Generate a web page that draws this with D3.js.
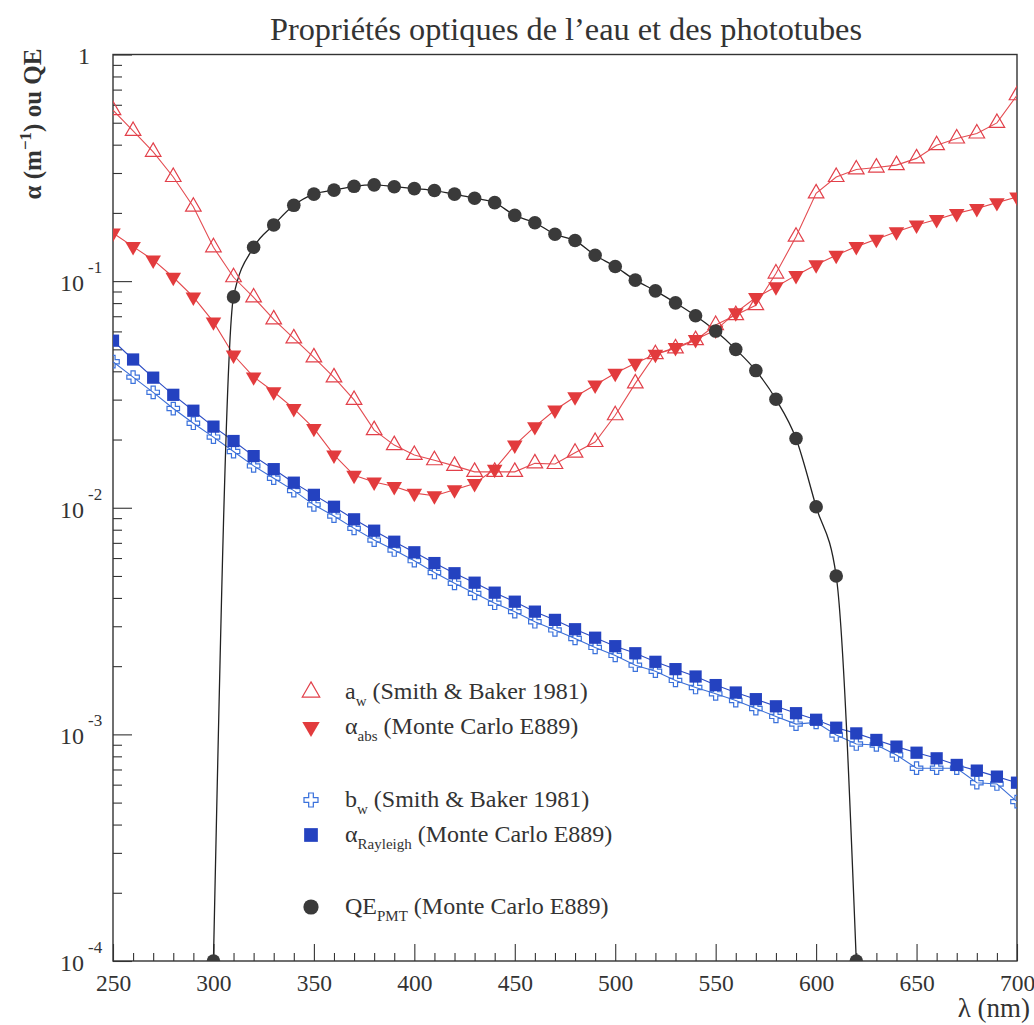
<!DOCTYPE html>
<html>
<head>
<meta charset="utf-8">
<script src="https://cdn.jsdelivr.net/npm/d3@7"></script>
<style>
  html, body { margin: 0; padding: 0; background: #fff; }
  svg { display: block; }
</style>
</head>
<body>
<svg id="chart" width="1034" height="1025"></svg>
<script>
// Wavelength grid (nm) for the water data, and for the phototube quantum efficiency
const wavelengths = [250,260,270,280,290,300,310,320,330,340,350,360,370,380,390,400,410,420,430,440,
                     450,460,470,480,490,500,510,520,530,540,550,560,570,580,590,600,610,620,630,640,
                     650,660,670,680,690,700];
const qeWavelengths = [300,310,320,330,340,350,360,370,380,390,400,410,420,430,440,450,460,470,480,490,
                       500,510,520,530,540,550,560,570,580,590,600,610,620];

// a_w : absorption of pure water (Smith & Baker 1981), m^-1
const aSmithBaker = [0.568,0.460,0.372,0.288,0.213,0.141,0.104,0.0847,0.0678,0.0559,
                     0.0461,0.0376,0.0299,0.0220,0.0189,0.0171,0.0162,0.0153,0.0144,0.0144,
                     0.0144,0.0157,0.0156,0.0175,0.0195,0.0256,0.0354,0.0476,0.0505,0.0549,
                     0.0640,0.0708,0.0783,0.108,0.157,0.244,0.288,0.311,0.317,0.325,
                     0.348,0.398,0.426,0.448,0.499,0.661];
// alpha_abs : absorption used in the E889 Monte Carlo, m^-1
const alphaAbs = [0.163,0.142,0.124,0.104,0.0852,0.0661,0.0472,0.0378,0.0325,0.0274,
                  0.0224,0.0171,0.0139,0.0130,0.0124,0.0116,0.0113,0.0120,0.0128,0.0148,
                  0.0189,0.0228,0.0270,0.0309,0.0348,0.0392,0.0434,0.0476,0.0510,0.0553,
                  0.0608,0.0726,0.0846,0.0944,0.106,0.118,0.130,0.142,0.153,0.165,
                  0.177,0.187,0.199,0.209,0.222,0.235];
// b_w : scattering of pure water (Smith & Baker 1981), m^-1
const bSmithBaker = [0.0441,0.0377,0.0323,0.0274,0.0236,0.0205,0.0177,0.0153,0.0135,0.0119,
                     0.0103,0.00919,0.00811,0.00720,0.00651,0.00584,0.00518,0.00464,0.00419,0.00379,
                     0.00348,0.00314,0.00289,0.00265,0.00242,0.00223,0.00202,0.00190,0.00173,0.00161,
                     0.00151,0.00141,0.00130,0.00120,0.00111,0.00113,0.000994,0.000907,0.000898,0.000811,
                     0.000709,0.000709,0.000709,0.000612,0.000604,0.000505];
// alpha_Rayleigh : Rayleigh scattering used in the E889 Monte Carlo, m^-1
const alphaRayleigh = [0.0546,0.0451,0.0375,0.0315,0.0268,0.0228,0.0197,0.0169,0.0148,0.0129,
                       0.0114,0.0101,0.00889,0.00792,0.00708,0.00636,0.00570,0.00514,0.00467,0.00422,
                       0.00385,0.00348,0.00320,0.00291,0.00267,0.00245,0.00228,0.00209,0.00194,0.00180,
                       0.00165,0.00153,0.00143,0.00133,0.00124,0.00116,0.00107,0.00101,0.000945,0.000883,
                       0.000830,0.000784,0.000733,0.000692,0.000651,0.000612];
// QE_PMT : photomultiplier quantum efficiency (E889 Monte Carlo)
const qePMT = [0,0.0852,0.141,0.177,0.216,0.242,0.252,0.262,0.266,0.261,
               0.256,0.251,0.242,0.232,0.222,0.195,0.181,0.161,0.151,0.130,
               0.116,0.101,0.0906,0.0802,0.0703,0.0602,0.0500,0.0403,0.0301,0.0202,
               0.0101,0.0050,0];

// Axis ticks
const xMajorTicks = [250,300,350,400,450,500,550,600,650,700];
const decadeTicks = [1e-4,1e-3,1e-2,1e-1,1];

const W = 1034, H = 1025;
const plot = { x0: 113, x1: 1017, y0: 54.5, y1: 961 };
const serif = "'Liberation Serif', 'Times New Roman', Times, serif";
const ink = '#333';

const x = d3.scaleLinear().domain([250, 700]).range([plot.x0, plot.x1]);
const y = d3.scaleLog().domain([1e-4, 1]).range([plot.y1, plot.y0]).clamp(true);

const svg = d3.select('#chart').style('font-family', serif);
svg.append('rect').attr('width', W).attr('height', H).attr('fill', '#fff');

// Title
svg.append('text')
  .attr('x', 566).attr('y', 40)
  .attr('text-anchor', 'middle')
  .style('font-family', serif).style('font-size', '32.3px').attr('fill', ink)
  .text('Propriétés optiques de l’eau et des phototubes');

// Clip region for curves and markers
svg.append('defs').append('clipPath').attr('id', 'plotClip')
  .append('rect')
  .attr('x', plot.x0).attr('y', plot.y0)
  .attr('width', plot.x1 - plot.x0).attr('height', plot.y1 - plot.y0);

// ---- X axis (ticks point into the frame) ----
const xMinorTicks = wavelengths.filter(w => !xMajorTicks.includes(w));
const gxMinor = svg.append('g').attr('transform', `translate(0,${plot.y1})`)
  .call(d3.axisBottom(x).tickValues(xMinorTicks).tickSize(-8).tickSizeOuter(0).tickFormat(''));
const gx = svg.append('g').attr('transform', `translate(0,${plot.y1})`)
  .call(d3.axisBottom(x).tickValues(xMajorTicks).tickSize(-17).tickSizeOuter(0)
        .tickPadding(13).tickFormat(d3.format('d')));
[gxMinor, gx].forEach(g => {
  g.attr('font-family', null).attr('font-size', null);
  g.select('.domain').remove();
  g.selectAll('line').attr('stroke', ink).attr('stroke-width', 1.1);
});
gx.selectAll('text').style('font-family', serif).style('font-size', '23.5px').attr('fill', ink);

// ---- Y axis (log, decades labelled 10^n) ----
const yMinorTicks = y.ticks().filter(v => !decadeTicks.some(d => Math.abs(d - v) / d < 1e-6));
const gyMinor = svg.append('g').attr('transform', `translate(${plot.x0},0)`)
  .call(d3.axisLeft(y).tickValues(yMinorTicks).tickSize(-9).tickSizeOuter(0).tickFormat(''));
const gy = svg.append('g').attr('transform', `translate(${plot.x0},0)`)
  .call(d3.axisLeft(y).tickValues(decadeTicks).tickSize(-19).tickSizeOuter(0).tickFormat(''));
[gyMinor, gy].forEach(g => {
  g.select('.domain').remove();
  g.selectAll('line').attr('stroke', ink).attr('stroke-width', 1.1);
});

const yLabels = svg.append('g').attr('fill', ink);
decadeTicks.forEach(v => {
  const exp = Math.round(Math.log10(v));
  const yy = y(v);
  if (exp === 0) {
    yLabels.append('text').attr('x', 90).attr('y', yy + 9)
      .attr('text-anchor', 'end').style('font-family', serif).style('font-size', '24px').text('1');
  } else {
    yLabels.append('text').attr('x', 84).attr('y', yy + 10)
      .attr('text-anchor', 'end').style('font-family', serif).style('font-size', '24px').text('10');
    yLabels.append('text').attr('x', 88).attr('y', yy - 8)
      .attr('text-anchor', 'start').style('font-family', serif).style('font-size', '17px').text(String(exp));
  }
});

// Frame
svg.append('rect')
  .attr('x', plot.x0).attr('y', plot.y0)
  .attr('width', plot.x1 - plot.x0).attr('height', plot.y1 - plot.y0)
  .attr('fill', 'none').attr('stroke', ink).attr('stroke-width', 1.4);

// Axis titles
const yTitle = svg.append('text')
  .attr('transform', 'translate(41,124) rotate(-90)')
  .attr('text-anchor', 'middle')
  .style('font-family', serif).style('font-weight', 'bold').style('font-size', '25px').attr('fill', ink);
yTitle.append('tspan').text('α (m');
yTitle.append('tspan').attr('dy', -10).style('font-size', '17px').text('−1');
yTitle.append('tspan').attr('dy', 10).text(') ou QE');

svg.append('text')
  .attr('x', 1030).attr('y', 1017)
  .attr('text-anchor', 'end')
  .style('font-family', serif).style('font-size', '27px').attr('fill', ink)
  .text('λ (nm)');

// ---- Marker shapes ----
function crossPath(s) {
  const a = s / 6, h = s / 2;
  return `M${-a},${-h}L${a},${-h}L${a},${-a}L${h},${-a}L${h},${a}L${a},${a}L${a},${h}` +
         `L${-a},${h}L${-a},${a}L${-h},${a}L${-h},${-a}L${-a},${-a}Z`;
}
const markerShapes = {
  triUp:   { d: d3.symbol(d3.symbolTriangle, 105)(), rotate: 0 },
  triDown: { d: d3.symbol(d3.symbolTriangle, 105)(), rotate: 180 },
  square:  { d: d3.symbol(d3.symbolSquare, 150)(), rotate: 0 },
  circle:  { d: d3.symbol(d3.symbolCircle, 145)(), rotate: 0 },
  cross:   { d: crossPath(12.5), rotate: 0 }
};

// ---- Series ----
const series = [
  { xs: wavelengths, ys: bSmithBaker, lineColor: '#3d6fd6', marker: 'cross',
    fill: 'none', stroke: '#3b72dc', curve: d3.curveLinear, lw: 1.1 },
  { xs: wavelengths, ys: alphaRayleigh, lineColor: '#2b4cc4', marker: 'square',
    fill: '#2442c0', stroke: 'none', curve: d3.curveLinear, lw: 1.1 },
  { xs: wavelengths, ys: aSmithBaker, lineColor: '#e44d52', marker: 'triUp',
    fill: 'none', stroke: '#e2404a', curve: d3.curveLinear, lw: 1.1 },
  { xs: wavelengths, ys: alphaAbs, lineColor: '#e3474b', marker: 'triDown',
    fill: '#e23b3d', stroke: 'none', curve: d3.curveLinear, lw: 1.1 },
  { xs: qeWavelengths, ys: qePMT, lineColor: '#222', marker: 'circle',
    fill: '#3a3a3a', stroke: 'none', curve: d3.curveMonotoneX, lw: 1.3 }
];

const plotArea = svg.append('g').attr('clip-path', 'url(#plotClip)');

series.forEach(s => {
  const pts = s.xs.map((w, i) => [w, s.ys[i]]);
  const line = d3.line().x(d => x(d[0])).y(d => y(d[1])).curve(s.curve);
  plotArea.append('path')
    .attr('d', line(pts))
    .attr('fill', 'none').attr('stroke', s.lineColor).attr('stroke-width', s.lw);
});

series.forEach(s => {
  const pts = s.xs.map((w, i) => [w, s.ys[i]]);
  const shape = markerShapes[s.marker];
  plotArea.append('g').selectAll('path')
    .data(pts).join('path')
    .attr('d', shape.d)
    .attr('transform', d => `translate(${x(d[0])},${y(d[1])}) rotate(${shape.rotate})`)
    .attr('fill', s.fill)
    .attr('stroke', s.stroke)
    .attr('stroke-width', s.stroke === 'none' ? 0 : 1.2);
});

// ---- Legend ----
const legendItems = [
  { marker: 'triUp',   fill: 'none',    stroke: '#e2404a', y: 692, main: 'a',  sub: 'w',        rest: ' (Smith & Baker 1981)' },
  { marker: 'triDown', fill: '#e23b3d', stroke: 'none',    y: 727, main: 'α',  sub: 'abs',      rest: ' (Monte Carlo E889)' },
  { marker: 'cross',   fill: 'none',    stroke: '#3b72dc', y: 800, main: 'b',  sub: 'w',        rest: ' (Smith & Baker 1981)' },
  { marker: 'square',  fill: '#2442c0', stroke: 'none',    y: 835, main: 'α',  sub: 'Rayleigh', rest: ' (Monte Carlo E889)' },
  { marker: 'circle',  fill: '#3a3a3a', stroke: 'none',    y: 907, main: 'QE', sub: 'PMT',      rest: ' (Monte Carlo E889)' }
];
const legend = svg.append('g');
legendItems.forEach(item => {
  const shape = markerShapes[item.marker];
  legend.append('path')
    .attr('d', shape.d)
    .attr('transform', `translate(311,${item.y}) scale(1.12) rotate(${shape.rotate})`)
    .attr('fill', item.fill).attr('stroke', item.stroke)
    .attr('stroke-width', item.stroke === 'none' ? 0 : 1.1);
  const t = legend.append('text')
    .attr('x', 345).attr('y', item.y + 7)
    .style('font-family', serif).style('font-size', '24px').attr('fill', ink);
  t.append('tspan').text(item.main);
  t.append('tspan').attr('dy', 7).style('font-size', '15px').text(item.sub);
  t.append('tspan').attr('dy', -7).text(item.rest);
});
</script>
</body>
</html>
